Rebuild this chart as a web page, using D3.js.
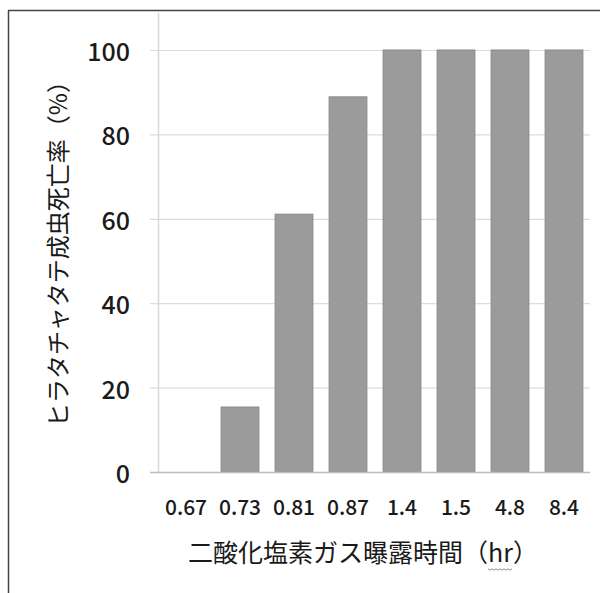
<!DOCTYPE html>
<html>
<head>
<meta charset="utf-8">
<script src="https://cdn.jsdelivr.net/npm/d3@7"></script>
<style>
  html, body { margin: 0; padding: 0; background: #fff; }
  svg { display: block; }
  text { font-family: "Noto Sans CJK JP", "Noto Sans", sans-serif; fill: #1a1a1a; }
</style>
</head>
<body>
<svg id="chart" width="600" height="593"></svg>
<script>
// ---- data ----
const categories = ["0.67", "0.73", "0.81", "0.87", "1.4", "1.5", "4.8", "8.4"];
const mortality = [0, 15.4, 61.1, 88.9, 100, 100, 100, 100];
const yTicks = [0, 20, 40, 60, 80, 100];
const xTitle = "二酸化塩素ガス曝露時間（hr）";
const yTitle = "ヒラタチャタテ成虫死亡率（%）";

const svg = d3.select("#chart");

// frame (scanned border: left + top)
svg.append("line").attr("x1", 8.5).attr("x2", 8.5).attr("y1", 10.5).attr("y2", 593)
  .attr("stroke", "#444").attr("stroke-width", 1.5);
svg.append("line").attr("x1", 8).attr("x2", 600).attr("y1", 10.5).attr("y2", 10.5)
  .attr("stroke", "#444").attr("stroke-width", 1.5);

const x = d3.scaleBand().domain(categories).range([159, 591])
  .paddingInner(0.3).paddingOuter(0.15);
const y = d3.scaleLinear().domain([0, 100]).range([472, 50]);

// gridlines
svg.append("g").selectAll("line").data(yTicks.filter(d => d > 0)).join("line")
  .attr("x1", 150).attr("x2", 590)
  .attr("y1", d => y(d) + 0.5).attr("y2", d => y(d) + 0.5)
  .attr("stroke", "#dcdcdc").attr("stroke-width", 1.2);

// y axis line (light)
svg.append("line").attr("x1", 158.5).attr("x2", 158.5).attr("y1", 13).attr("y2", y(0))
  .attr("stroke", "#d8d8d8").attr("stroke-width", 1.5);

// bars
svg.append("g").selectAll("rect").data(categories.map((c, i) => ({c, v: mortality[i]}))).join("rect")
  .attr("x", d => x(d.c))
  .attr("width", x.bandwidth())
  .attr("y", d => y(d.v))
  .attr("height", d => y(0) - y(d.v))
  .attr("fill", "#9b9b9b")
  .attr("stroke", "#8a8a8a").attr("stroke-width", 1);

// baseline
svg.append("line").attr("x1", 150).attr("x2", 590).attr("y1", y(0) + 0.5).attr("y2", y(0) + 0.5)
  .attr("stroke", "#bdbdbd").attr("stroke-width", 1.5);

// y tick labels
svg.append("g").selectAll("text").data(yTicks).join("text")
  .attr("x", 130).attr("y", d => y(d))
  .attr("text-anchor", "end").attr("dominant-baseline", "central")
  .attr("font-size", 25).attr("font-weight", 500).text(d => d);

// x tick labels
svg.append("g").selectAll("text").data(categories).join("text")
  .attr("x", d => x(d) + x.bandwidth() / 2).attr("y", 515)
  .attr("text-anchor", "middle")
  .attr("font-size", 21).attr("font-weight", 500).text(d => d);

// x title
const xt = svg.append("text").attr("x", 363).attr("y", 562)
  .attr("text-anchor", "middle").attr("font-size", 25).text(xTitle);

// wavy spell-check underline under "hr"
try {
  const node = xt.node();
  const idx = xTitle.indexOf("hr");
  const bb = node.getBBox();
  const start = bb.x + node.getSubStringLength(0, idx);
  const w = node.getSubStringLength(idx, 2);
  const pts = [];
  for (let px = 0; px <= w; px += 2) pts.push([start + px, 569 + ((px / 2) % 2 ? 1.2 : -0.2)]);
  svg.append("path").attr("d", d3.line()(pts)).attr("fill", "none")
    .attr("stroke", "#777").attr("stroke-width", 0.9);
} catch (e) {}

// y title
svg.append("text")
  .attr("transform", "translate(56,248) rotate(-90)")
  .attr("text-anchor", "middle").attr("dominant-baseline", "central")
  .attr("font-size", 24).text(yTitle);
</script>
</body>
</html>
